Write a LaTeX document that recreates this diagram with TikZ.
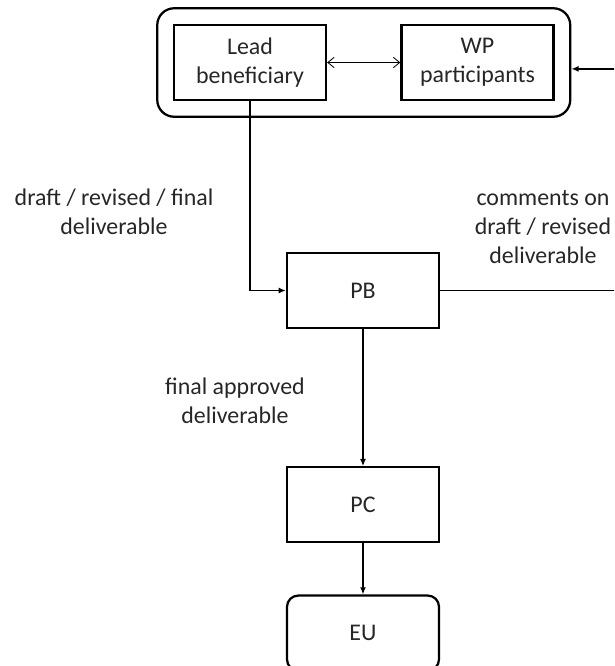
\documentclass[tikz,border=0pt]{standalone}
\usepackage{fontspec}
\setmainfont{Carlito}
\usetikzlibrary{arrows.meta,positioning,fit}

\begin{document}
\begin{tikzpicture}[
    x=0.025cm,y=-0.025cm,
    font=\fontsize{17}{20.5}\selectfont,
    box/.style={draw,line width=1.6pt,minimum width=3.8cm,minimum height=1.875cm,align=center,text=black!85},
    endbox/.style={box,rounded corners=8pt},
    note/.style={align=center,text=black!85},
    arrow/.style={-{Latex[length=1.8mm,width=1.5mm]},line width=1.4pt},
    link/.style={{Straight Barb[length=1.6mm,width=2.6mm]}-{Straight Barb[length=1.6mm,width=2.6mm]},line width=0.6pt}
  ]
  \useasboundingbox (0,0) rectangle (614,666);
  \clip (0,0) rectangle (614,666);
  \node[box] (lead) at (250,62.5) {Lead\\beneficiary};
  \node[box] (wp) at (477.5,62.5) {WP\\participants};
  \node[draw,line width=1.6pt,rounded corners=12pt,inner sep=0.39cm,fit=(lead)(wp)] (team) {};
  \node[box] (pb) at (363,290.5) {PB};
  \node[box,below=3.425cm of pb] (pc) {PC};
  \node[endbox,below=1.275cm of pc] (eu) {EU};
  \draw[link] (lead) -- (wp);
  \draw[arrow] (lead.south) |- (pb.west);
  \draw[arrow] (pb.east) -- ++(220,0) |- ([yshift=-0.16cm]team.east);
  \draw[arrow] (pb) -- (pc);
  \draw[arrow] (pc) -- (eu);
  \node[note] (draftnote) at (114,212) {draft / revised / final\\deliverable};
  \node[note] (commentnote) at (543,227) {comments on\\draft / revised\\deliverable};
  \node[note] (finalnote) at (235,401) {final approved\\deliverable};
\end{tikzpicture}
\end{document}
